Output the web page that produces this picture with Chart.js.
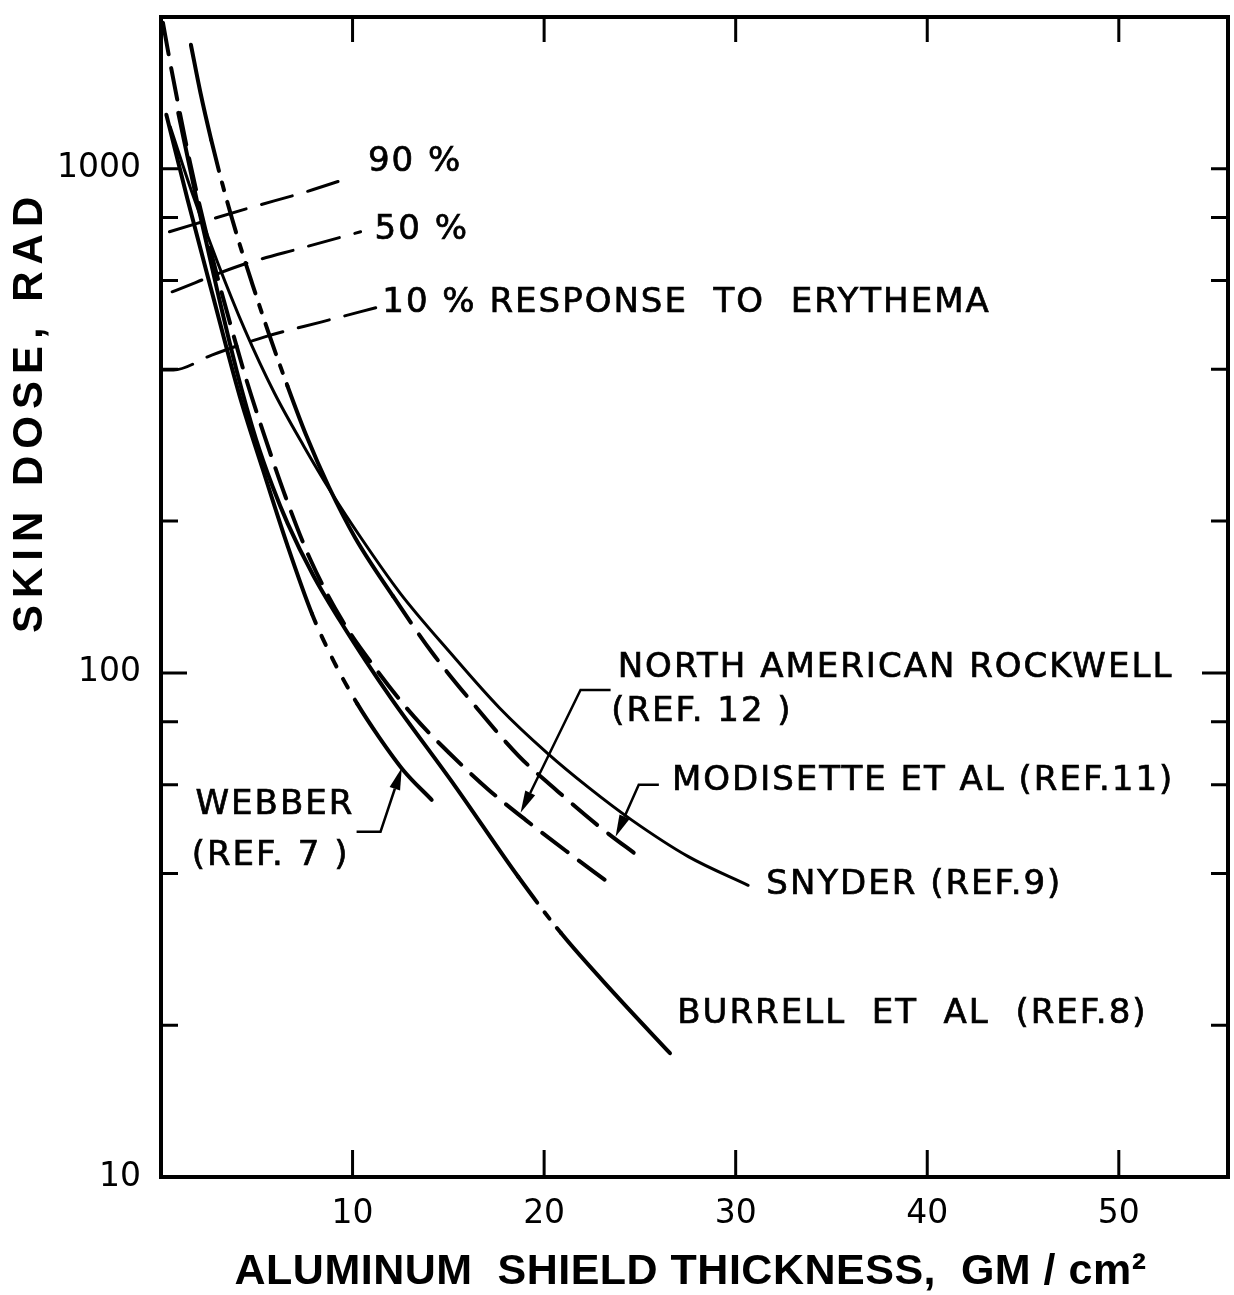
<!DOCTYPE html>
<html>
<head>
<meta charset="utf-8">
<title>Skin dose vs aluminum shield thickness</title>
<script src="https://cdn.jsdelivr.net/npm/chart.js@4.4.1/dist/chart.umd.min.js"></script>
<style>
  html, body { margin: 0; padding: 0; background: #fff; }
</style>
</head>
<body>
<canvas id="doseChart" width="1234" height="1295"></canvas>
<script>
// shield thickness (gm/cm2) and skin dose (rad) along each curve
const webberX = [0.28, 1.39, 2.67, 4.09, 5.32, 6.60, 7.88, 9.06, 10.25, 11.38, 12.68, 14.13];
const webberY = [1280, 868, 567, 356, 253, 179, 131, 104.7, 86.8, 74.6, 63.9, 56];

const burrellX = [0.90, 1.92, 2.93, 3.94, 4.97, 5.83, 6.61, 7.95, 9.34, 10.73, 12.07, 15.34, 18.65, 20.87, 23.72, 26.57];
const burrellY = [1291, 848, 575, 399, 290, 234, 198, 156, 127, 105, 88.4, 59.7, 39.4, 30.5, 23.0, 17.6];

const narX = [0.10, 0.45, 0.91, 1.46, 2.07, 2.78, 3.60, 4.46, 5.38, 6.51, 7.79, 9.44, 11.25, 13.22, 15.14, 17.11, 19.03, 21.26, 23.19];
const narY = [1949, 1645, 1334, 1052, 829, 645, 495, 381, 297, 223, 168, 127.4, 101.4, 81.8, 68.8, 58.6, 51.1, 44, 38.8];

const modisetteX = [1.56, 2.06, 2.62, 3.23, 3.94, 4.76, 5.63, 6.60, 7.58, 8.76, 10.15, 12.11, 14.13, 16.35, 18.68, 20.76, 22.84, 25.02];
const modisetteY = [1762, 1415, 1142, 925, 743, 592, 471, 371, 296, 234, 185, 142, 110, 86.4, 68.4, 58, 49.7, 43];

const snyderX = [0.48, 1.66, 2.94, 4.38, 5.92, 7.47, 8.86, 10.41, 12.48, 15.07, 17.66, 20.15, 22.33, 24.56, 27.53, 30.65];
const snyderY = [1211, 888, 654, 479, 359, 281, 229, 186, 144, 110, 85.3, 69.4, 59.2, 51.1, 43.2, 37.9];

// erythema response levels
const ery90X = [0.44, 4.79, 7.40, 9.86];
const ery90Y = [750, 840, 896, 960];
const ery50X = [0.58, 4.25, 7.38, 10.42];
const ery50Y = [570, 645, 697, 750];
const ery10X = [0.03, 0.65, 2.65, 5.42, 8.40, 11.38];
const ery10Y = [399, 399, 427, 464, 497, 532];

// axis ticks
const xTickValues = [10, 20, 30, 40, 50];
const yTickValues = [10, 100, 1000];
const yMarkValues = [20, 40, 60, 80, 100, 200, 400, 600, 800, 1000];

const LONG = [32, 14];
const SHORT = [10, 14];
const DASHDOT = [32, 12, 8, 12];
const ERY = [32, 16];

const LABEL_FONT = '34px "DejaVu Sans", sans-serif';

function pts(xs, ys) {
  return xs.map((x, i) => ({ x: x, y: ys[i] }));
}

// pick a dash pattern by the x where a segment starts
function dashBy(runs) {
  return ctx => {
    const x = ctx.p0.parsed.x;
    for (const r of runs) {
      if (x < r.to) return r.dash;
    }
    return [];
  };
}

function curve(data, width, runs) {
  return {
    data: data,
    borderColor: '#000',
    borderWidth: width,
    borderCapStyle: 'round',
    borderJoinStyle: 'round',
    pointRadius: 0,
    fill: false,
    cubicInterpolationMode: 'monotone',
    segment: { borderDash: dashBy(runs) }
  };
}

const curveLabels = [
  { text: '90 %', x: 10.8, y: 1032 },
  { text: '50 %', x: 11.15, y: 757 },
  { text: '10 % RESPONSE  TO  ERYTHEMA', x: 11.55, y: 542 },
  { text: 'NORTH AMERICAN ROCKWELL', x: 23.84, y: 102.3 },
  { text: '(REF. 12 )', x: 23.5, y: 83.7 },
  { text: 'MODISETTE ET AL (REF.11)', x: 26.67, y: 61.0 },
  { text: 'SNYDER (REF.9)', x: 31.6, y: 37.9 },
  { text: 'BURRELL  ET  AL  (REF.8)', x: 26.95, y: 21.0 },
  { text: 'WEBBER', x: 1.8, y: 54.6 },
  { text: '(REF. 7 )', x: 1.6, y: 43.3 }
];

// label leaders: elbow points, last one is the arrow tip
const leaders = [
  [{ x: 23.47, y: 92.5 }, { x: 21.9, y: 92.5 }, { x: 18.77, y: 52.8 }],
  [{ x: 25.99, y: 60 }, { x: 24.94, y: 60 }, { x: 23.73, y: 47.3 }],
  [{ x: 10.21, y: 48.4 }, { x: 11.46, y: 48.4 }, { x: 12.57, y: 64.8 }]
];

const inkPlugin = {
  id: 'ink',
  afterDatasetsDraw(chart) {
    const ctx = chart.ctx;
    const a = chart.chartArea;
    const xs = chart.scales.x;
    const ys = chart.scales.y;
    ctx.save();
    ctx.strokeStyle = '#000';
    ctx.fillStyle = '#000';
    ctx.lineCap = 'butt';

    // frame
    ctx.lineWidth = 4;
    ctx.strokeRect(a.left, a.top, a.right - a.left, a.bottom - a.top);

    // ticks pointing into the plot
    ctx.lineWidth = 3;
    ctx.beginPath();
    xTickValues.forEach(v => {
      const px = xs.getPixelForValue(v);
      ctx.moveTo(px, a.bottom);
      ctx.lineTo(px, a.bottom - 27);
      ctx.moveTo(px, a.top);
      ctx.lineTo(px, a.top + 25);
    });
    yMarkValues.forEach(v => {
      const py = ys.getPixelForValue(v);
      const len = v === 100 ? 26 : 17;
      ctx.moveTo(a.left, py);
      ctx.lineTo(a.left + len, py);
      ctx.moveTo(a.right, py);
      ctx.lineTo(a.right - len, py);
    });
    ctx.stroke();

    // leaders with arrow heads
    ctx.lineWidth = 2.5;
    leaders.forEach(path => {
      const p = path.map(q => ({ x: xs.getPixelForValue(q.x), y: ys.getPixelForValue(q.y) }));
      const tip = p[p.length - 1];
      const prev = p[p.length - 2];
      const ang = Math.atan2(tip.y - prev.y, tip.x - prev.x);
      const head = 22;
      const half = 5.5;
      const bx = tip.x - head * Math.cos(ang);
      const by = tip.y - head * Math.sin(ang);
      ctx.beginPath();
      ctx.moveTo(p[0].x, p[0].y);
      for (let i = 1; i < p.length - 1; i++) ctx.lineTo(p[i].x, p[i].y);
      ctx.lineTo(bx, by);
      ctx.stroke();
      ctx.beginPath();
      ctx.moveTo(tip.x, tip.y);
      ctx.lineTo(bx + half * Math.sin(ang), by - half * Math.cos(ang));
      ctx.lineTo(bx - half * Math.sin(ang), by + half * Math.cos(ang));
      ctx.closePath();
      ctx.fill();
    });

    // curve names, slightly heavier strokes
    ctx.font = LABEL_FONT;
    ctx.letterSpacing = '2px';
    ctx.textAlign = 'left';
    ctx.textBaseline = 'middle';
    ctx.lineWidth = 0.7;
    curveLabels.forEach(l => {
      const px = xs.getPixelForValue(l.x);
      const py = ys.getPixelForValue(l.y);
      ctx.fillText(l.text, px, py);
      ctx.strokeText(l.text, px, py);
    });

    // axis titles
    ctx.textAlign = 'center';
    ctx.font = 'bold 43px "Liberation Sans", sans-serif';
    ctx.letterSpacing = '0.5px';
    ctx.fillText('ALUMINUM  SHIELD THICKNESS,  GM / cm\u00B2', (a.left + a.right) / 2 - 4, chart.height - 23);

    ctx.font = 'bold 42px "Liberation Sans", sans-serif';
    ctx.letterSpacing = '7px';
    ctx.translate(a.left - 131, a.top + 0.34 * (a.bottom - a.top));
    ctx.rotate(-Math.PI / 2);
    ctx.fillText('SKIN DOSE, RAD', 0, 0);
    ctx.restore();
  }
};

Chart.defaults.font.family = '"DejaVu Sans", sans-serif';
Chart.defaults.color = '#000';

new Chart(document.getElementById('doseChart'), {
  type: 'line',
  data: {
    datasets: [
      curve(pts(webberX, webberY), 4, [{ to: 7.8, dash: [] }, { to: 10.2, dash: SHORT }]),
      curve(pts(burrellX, burrellY), 4, [{ to: 18.6, dash: [] }, { to: 20.8, dash: DASHDOT }]),
      curve(pts(narX, narY), 4, [{ to: 99, dash: LONG }]),
      curve(pts(modisetteX, modisetteY), 4, [{ to: 2.5, dash: [] }, { to: 6.1, dash: DASHDOT }, { to: 12, dash: [] }, { to: 99, dash: LONG }]),
      curve(pts(snyderX, snyderY), 3, []),
      curve(pts(ery90X, ery90Y), 3, [{ to: 99, dash: ERY }]),
      curve(pts(ery50X, ery50Y), 3, [{ to: 99, dash: ERY }]),
      curve(pts(ery10X, ery10Y), 3, [{ to: 99, dash: ERY }])
    ]
  },
  options: {
    responsive: false,
    animation: false,
    layout: { padding: { top: 17, right: 6, left: 0, bottom: 0 } },
    plugins: { legend: { display: false }, tooltip: { enabled: false } },
    scales: {
      x: {
        type: 'linear',
        min: 0,
        max: 55.7,
        grid: { display: false, drawTicks: false },
        border: { display: false },
        afterBuildTicks: s => { s.ticks = xTickValues.map(v => ({ value: v })); },
        afterFit: s => { s.height = 118; s.paddingLeft = 0; s.paddingRight = 0; },
        ticks: { font: { size: 33 }, padding: 18, maxRotation: 0 }
      },
      y: {
        type: 'logarithmic',
        min: 10,
        max: 2000,
        grid: { display: false, drawTicks: false },
        border: { display: false },
        afterBuildTicks: s => { s.ticks = yTickValues.map(v => ({ value: v })); },
        afterFit: s => { s.width = 161; s.paddingTop = 0; s.paddingBottom = 0; },
        ticks: { font: { size: 33 }, padding: 20, callback: v => String(v) }
      }
    }
  },
  plugins: [inkPlugin]
});
</script>
</body>
</html>
